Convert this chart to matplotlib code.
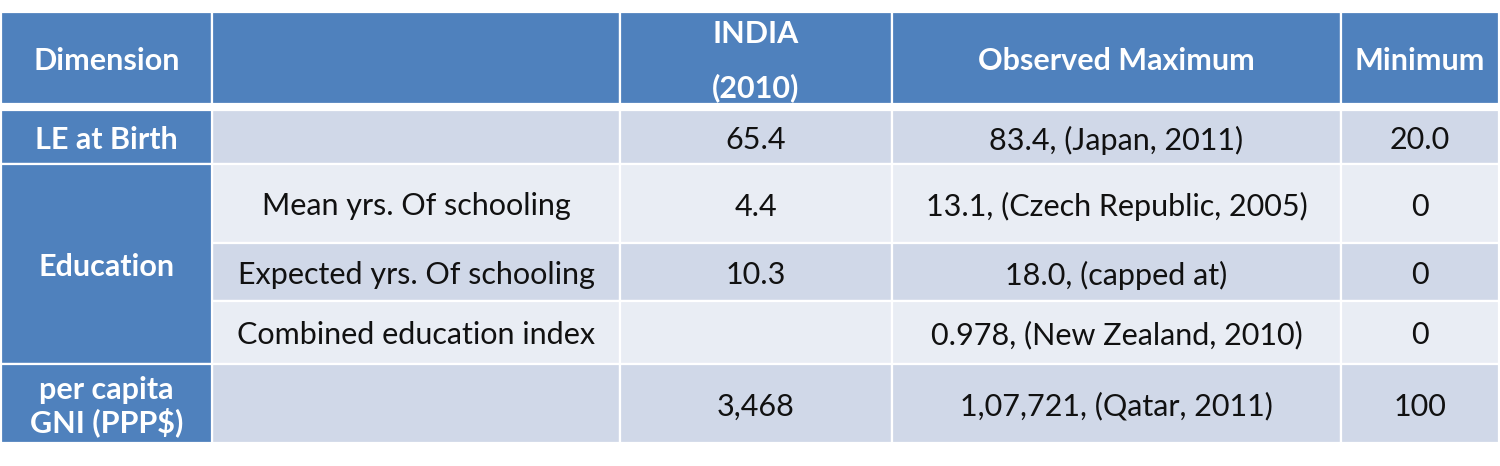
import matplotlib.pyplot as plt
from matplotlib.patches import Rectangle

# table content
headers = ["Dimension", "", "INDIA\n\n(2010)", "Observed Maximum", "Minimum"]
indicators = ["", "Mean yrs. Of schooling", "Expected yrs. Of schooling",
              "Combined education index", ""]
india = ["65.4", "4.4", "10.3", "", "3,468"]
obs_max = ["83.4, (Japan, 2011)", "13.1, (Czech Republic, 2005)", "18.0, (capped at)",
           "0.978, (New Zealand, 2010)", "1,07,721, (Qatar, 2011)"]
minimum = ["20.0", "0", "0", "0", "100"]
dimensions = [("LE at Birth", 0, 1), ("Education", 1, 4), ("per capita\nGNI (PPP$)", 4, 5)]

# layout in pixels
col_edges = [1, 212, 620, 892, 1341, 1499]
head_top, head_bot = 12, 104
body_edges = [110, 164, 243, 301, 364, 443]
row_colors = ["#D0D8E8", "#E9EDF4", "#D0D8E8", "#E9EDF4", "#D0D8E8"]
blue = "#4F81BD"

plt.rcParams['font.family'] = ['Lato', 'DejaVu Sans']
fs = 22

fig = plt.figure(figsize=(15, 4.66), dpi=100)
ax = fig.add_axes([0, 0, 1, 1])
ax.set_xlim(0, 1500)
ax.set_ylim(466, 0)
ax.axis('off')

def cell(x0, x1, y0, y1, color):
    ax.add_patch(Rectangle((x0, y0), x1 - x0, y1 - y0, facecolor=color,
                           edgecolor='white', linewidth=1.6))

# header
for i, h in enumerate(headers):
    x0, x1 = col_edges[i], col_edges[i + 1]
    cell(x0, x1, head_top, head_bot, blue)
    ax.text((x0 + x1) / 2, (head_top + head_bot) / 2 + 3, h, ha='center', va='center',
            color='white', fontsize=fs, fontweight='bold', linespacing=0.95)

# body rows
for r in range(len(india)):
    y0, y1 = body_edges[r], body_edges[r + 1]
    yc = (y0 + y1) / 2 + 3
    vals = [indicators[r], india[r], obs_max[r], minimum[r]]
    for c, v in enumerate(vals):
        x0, x1 = col_edges[c + 1], col_edges[c + 2]
        cell(x0, x1, y0, y1, row_colors[r])
        ax.text((x0 + x1) / 2, yc, v, ha='center', va='center', color='#111111', fontsize=fs)

# dimension cells (merged)
for label, r0, r1 in dimensions:
    y0, y1 = body_edges[r0], body_edges[r1]
    cell(col_edges[0], col_edges[1], y0, y1, blue)
    ax.text((col_edges[0] + col_edges[1]) / 2, (y0 + y1) / 2 + 3, label, ha='center',
            va='center', color='white', fontsize=fs, fontweight='bold', linespacing=1.1)

# thicker gap under header
ax.plot([col_edges[0], col_edges[-1]], [107, 107], color='white', linewidth=4.5)

fig.savefig('out.png', dpi=100)
